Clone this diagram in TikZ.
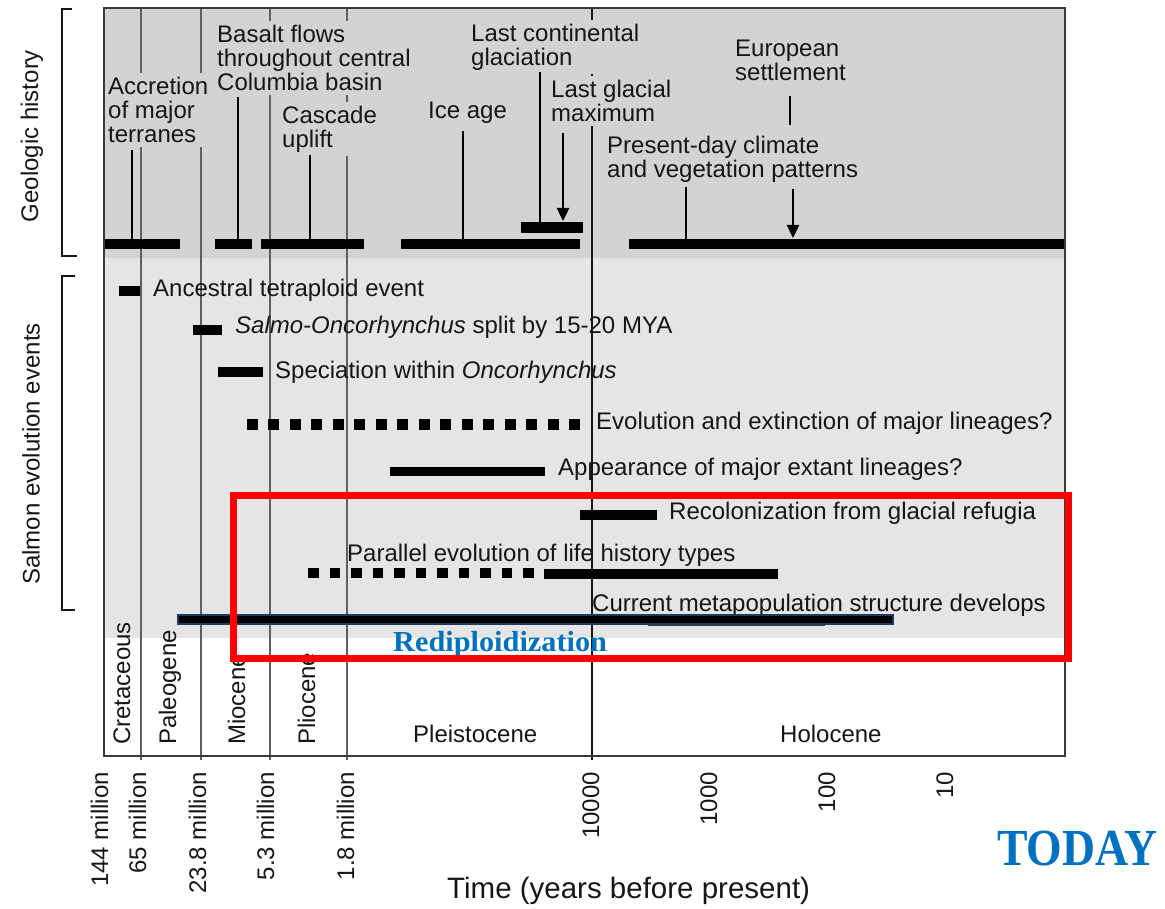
\documentclass[tikz,border=0pt]{standalone}
\usepackage{fontspec}
\setmainfont{Liberation Sans}
\newfontfamily\headserif{Liberation Serif}
\usetikzlibrary{arrows.meta}

\definecolor{topgray}{RGB}{211,211,211}
\definecolor{lowgray}{RGB}{229,229,229}
\definecolor{gridgray}{RGB}{95,95,95}
\definecolor{inkgray}{RGB}{22,22,22}
\definecolor{framegray}{RGB}{58,58,58}
\definecolor{navyedge}{RGB}{31,56,100}
\definecolor{todayblue}{RGB}{0,112,192}

\begin{document}
\begin{tikzpicture}[x=1pt,y=-1pt,
  txt/.style={font=\fontsize{24}{24}\selectfont, text=inkgray, inner sep=0pt},
  toplabel/.style={txt, align=left, anchor=north west, fill=topgray, inner sep=4pt},
  evlabel/.style={txt, anchor=base west},
  epoch/.style={txt, anchor=base west, rotate=90},
  tick/.style={txt, anchor=base east, rotate=90},
  grid/.style={draw=gridgray, line width=1.4pt},
  geobar/.style={line width=10pt},
  stem/.style={line width=2.4pt},
  evbar/.style={line width=9.5pt},
  pointer/.style={stem, -{Triangle[length=13pt,width=12pt]}},
  bracket/.style={draw=inkgray, line width=2pt},
  blue/.style={text=todayblue, inner sep=0pt, anchor=base west}
]
\useasboundingbox (0,0) rectangle (1165,909);

% panel backgrounds
\fill[topgray] (104,8) rectangle (1065,258);
\fill[lowgray] (104,258) rectangle (1065,638);

% time grid
\foreach \gx in {141,201,270,347}
  \draw[grid] (\gx,8) -- (\gx,760);
\draw[draw=inkgray, line width=1.5pt] (592,8) -- (592,760);

% geologic history labels
\node[toplabel] (acc) at (104,72.7) {Accretion\\of major\\terranes};
\node[toplabel] (bas) at (213,20.7) {Basalt flows\\throughout central\\Columbia basin};
\node[toplabel] (cas) at (278,101.7) {Cascade\\uplift};
\node[toplabel] (ice) at (424,97.7) {Ice age};
\node[toplabel] (lcg) at (467,19.7) {Last continental\\glaciation};
\node[toplabel] (lgm) at (547,75.7) {Last glacial\\maximum};
\node[toplabel] (eur) at (731,35.7) {European\\settlement};
\node[toplabel] (pdc) at (603,131.7) {Present-day climate\\and vegetation patterns};

% geologic history bars
\draw[geobar] (104,244) -- (180,244);
\draw[geobar] (215,244) -- (252,244);
\draw[geobar] (261,244) -- (364,244);
\draw[geobar] (401,244) -- (580,244);
\draw[geobar] (629,244) -- (1065,244);
\draw[line width=11pt] (521,227.5) -- (583,227.5);

% stems from labels to bars
\coordinate (accA) at (132,150); \coordinate (accB) at (132,239);
\coordinate (basA) at (238,97);  \coordinate (basB) at (238,239);
\coordinate (casA) at (310,155); \coordinate (casB) at (310,239);
\coordinate (iceA) at (463,131); \coordinate (iceB) at (463,239);
\coordinate (lcgA) at (540,72);  \coordinate (lcgB) at (540,222);
\coordinate (lgmA) at (563,133); \coordinate (lgmB) at (563,221);
\coordinate (pdcA) at (686,187); \coordinate (pdcB) at (686,239);
\coordinate (eurA) at (790,96);  \coordinate (eurB) at (790,125);
\coordinate (arrA) at (793,189); \coordinate (arrB) at (793,238);
\draw[stem] (accA) -- (accB);
\draw[stem] (basA) -- (basB);
\draw[stem] (casA) -- (casB);
\draw[stem] (iceA) -- (iceB);
\draw[stem] (lcgA) -- (lcgB);
\draw[pointer] (lgmA) -- (lgmB);
\draw[stem] (pdcA) -- (pdcB);
\draw[stem] (eurA) -- (eurB);
\draw[pointer] (arrA) -- (arrB);

% salmon evolution events
\draw[evbar] (119,291) -- (140,291);
\node[evlabel] (anc) at (153,297) {Ancestral tetraploid event};
\draw[evbar] (193,330) -- (222,330);
\node[evlabel] (sal) at (235,334) {\textit{Salmo-Oncorhynchus} split by 15-20 MYA};
\draw[evbar] (218,372) -- (263,372);
\node[evlabel] (spe) at (275,378) {Speciation within \textit{Oncorhynchus}};
\foreach \i in {0,...,15}
  \fill (246.5+21.5*\i,418.5) rectangle ++(11,11);
\node[evlabel] (evo) at (596,429) {Evolution and extinction of major lineages?};
\draw[evbar] (390,471.5) -- (545,471.5);
\node[evlabel] (app) at (558,475) {Appearance of major extant lineages?};
\draw[evbar] (580,515) -- (657,515);
\node[evlabel] (rec) at (669,519) {Recolonization from glacial refugia};
\node[evlabel] (par) at (347,561) {Parallel evolution of life history types};
\foreach \i in {0,...,10}
  \fill (308,567.5) ++(21.5*\i,0) rectangle ++(10.5,10.5);
\draw[evbar] (544,574) -- (778,574);
\node[evlabel] (cur) at (592,611) {Current metapopulation structure develops};
\draw[draw=framegray, line width=2.5pt] (648,625) -- (825,625);

% epochs
\node[epoch] (cre) at (130,745) {Cretaceous};
\node[epoch] (pal) at (176,745) {Paleogene};
\node[epoch] (mio) at (245,745) {Miocene};
\node[epoch] (pli) at (315,745) {Pliocene};
\node[txt, anchor=base west] (ple) at (413,742) {Pleistocene};
\node[txt, anchor=base west] (hol) at (780,742) {Holocene};

% frame
\draw[draw=framegray, line width=2.5pt] (104,8) rectangle (1065,756);

% time axis
\node[tick] (t144) at (108,772) {144 million};
\node[tick] (t65)  at (146,772) {65 million};
\node[tick] (t238) at (206,772) {23.8 million};
\node[tick] (t53)  at (274,772) {5.3 million};
\node[tick] (t18)  at (354,772) {1.8 million};
\node[tick] (t4)   at (599,772) {10000};
\node[tick] (t3)   at (717,772) {1000};
\node[tick] (t2)   at (835,772) {100};
\node[tick] (t1)   at (953,772) {10};
\node[txt, anchor=base west, font=\fontsize{29.5}{29.5}\selectfont] (axis) at (447,898) {Time (years before present)};

% rediploidization span
\draw[draw=navyedge, fill=black, line width=1.2pt] (178,615) rectangle (893,624);
\node[blue, font=\headserif\bfseries\fontsize{29}{29}\selectfont] (redip) at (393,651) {\scalebox{1.045}[1]{Rediploidization}};

% highlight
\draw[draw=red, line width=7pt] (233,495.5) rectangle (1068.5,658.5);

% side labels
\node[txt, rotate=90] (geo) at (32,136) {Geologic history};
\draw[bracket] (72,9) -- (62,9) -- (62,256) -- (77,256);
\node[txt, rotate=90] (sev) at (31,454) {Salmon evolution events};
\draw[bracket] (75,276) -- (62,276) -- (62,610) -- (75,610);

% today marker
\node[blue, font=\headserif\bfseries\fontsize{52}{52}\selectfont] (today) at (997,865) {\scalebox{0.88}[1]{TODAY}};
\end{tikzpicture}
\end{document}
